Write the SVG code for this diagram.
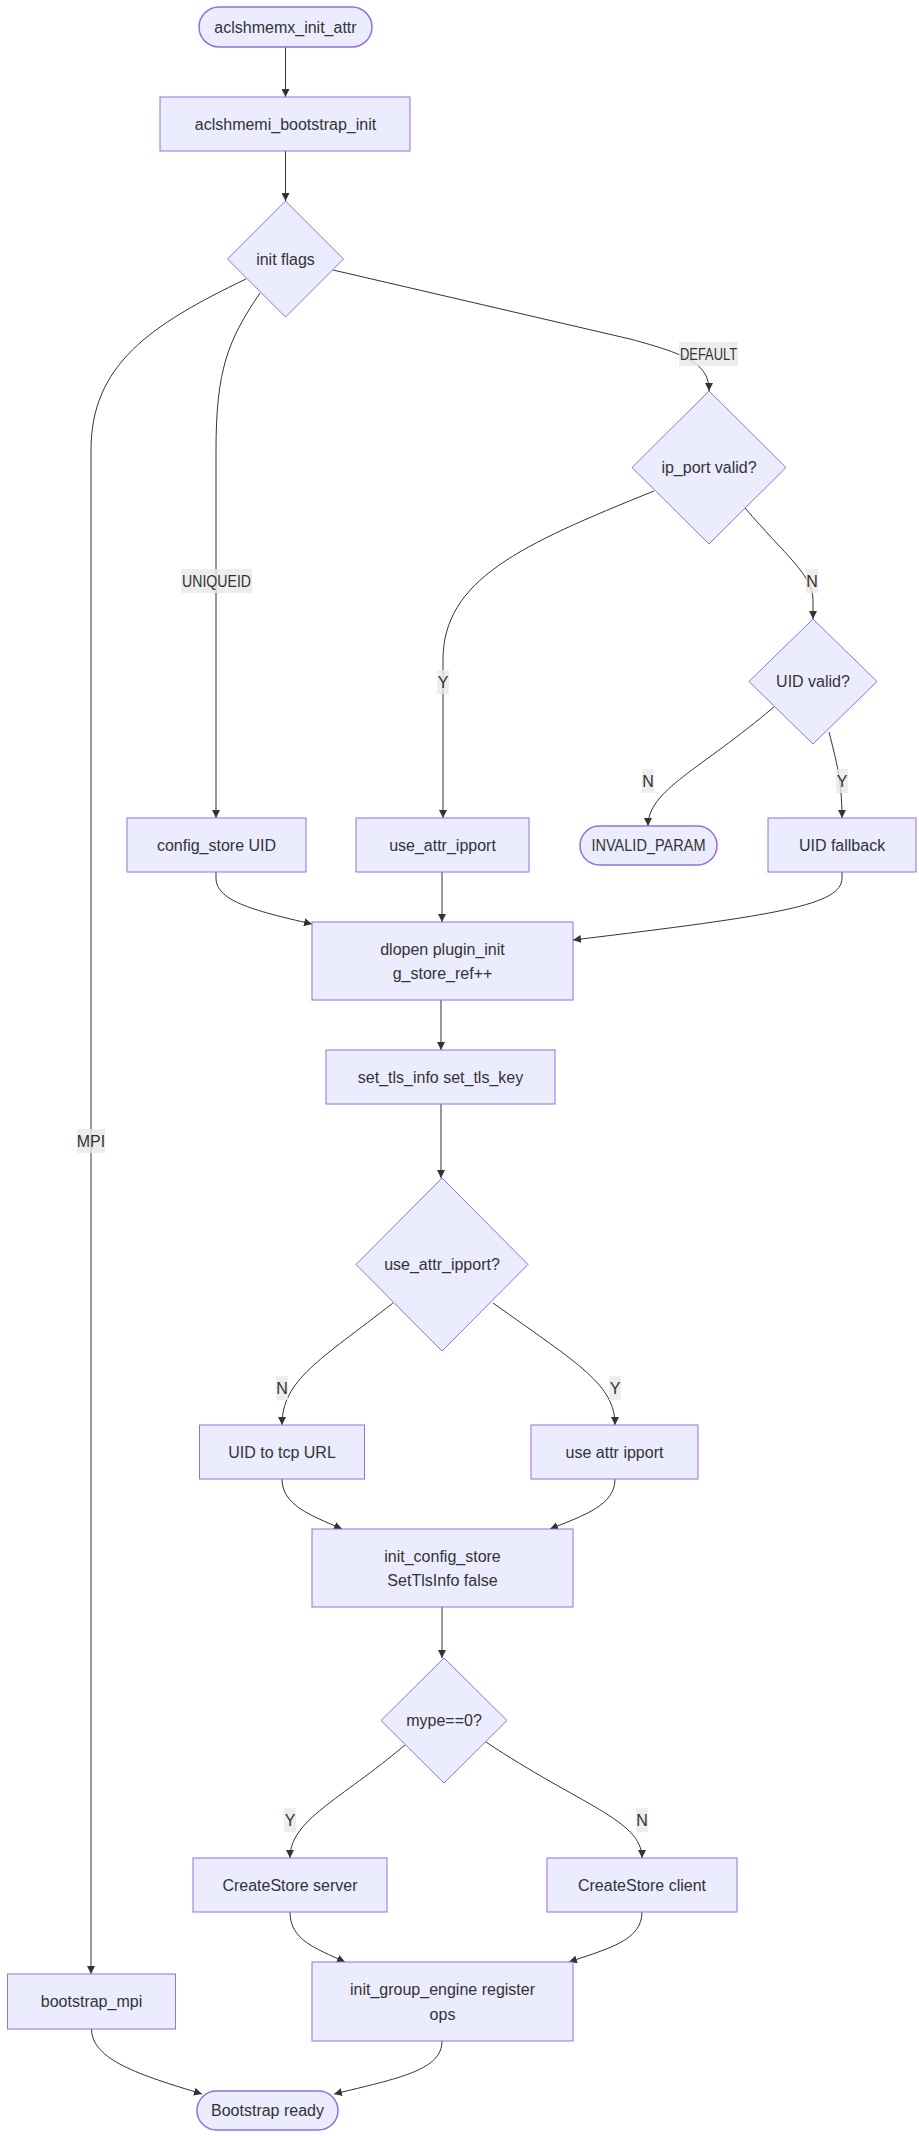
<svg xmlns="http://www.w3.org/2000/svg" width="919" height="2136" viewBox="0 0 919 2136">
<style>
  .node rect, .node polygon { fill: #ECECFF; stroke: #9370DB; stroke-width: 1; }
  .node .term { stroke-width: 1.5; }
  text { font-family: "Liberation Sans", Arial, sans-serif; font-size: 16px; fill: #333333; text-anchor: middle; dominant-baseline: central; }
  .edges path { fill: none; stroke: #333333; stroke-width: 1; marker-end: url(#arrow); }
  .lbl rect { fill: #e8e8e8; fill-opacity: 0.8; stroke: none; }
</style>
<defs>
  <marker id="arrow" viewBox="0 0 10 10" refX="10" refY="5" markerWidth="8" markerHeight="8" markerUnits="userSpaceOnUse" orient="auto">
    <path d="M0,0 L10,5 L0,10 z" fill="#333333"/>
  </marker>
</defs>
<rect width="919" height="2136" fill="#ffffff"/>
<g class="edges">
  <path d="M285.5,47 L285.5,97"/>
  <path d="M285.5,151 L285.5,201"/>
  <path d="M246,279 C150,325 91,365 91,450 L91,1974"/>
  <path d="M260,293 C228,340 216,370 216,450 L216,818"/>
  <path d="M333,270 L630,339 C690,355 709,365 709,391"/>
  <path d="M654,491 C520,545 443,580 443,660 L443,818"/>
  <path d="M745,508 C785,555 813,575 813,600 L813,619"/>
  <path d="M775,706 C700,770 648,790 648,826"/>
  <path d="M829,732 C836,760 842,780 842,818"/>
  <path d="M216,872 L216,878 C216,900 250,910 312,924"/>
  <path d="M442,872 L442,922"/>
  <path d="M842,872 L842,878 C842,905 780,915 573,940"/>
  <path d="M441,1000 L441,1050"/>
  <path d="M441,1104 L441,1178"/>
  <path d="M393,1303 C320,1360 282,1380 282,1425"/>
  <path d="M493,1303 C580,1365 615,1385 615,1425"/>
  <path d="M282,1479 C282,1505 310,1515 342,1529"/>
  <path d="M615,1479 C615,1505 585,1515 550,1529"/>
  <path d="M442,1607 L442,1658"/>
  <path d="M405,1745 C340,1800 290,1820 290,1858"/>
  <path d="M486,1742 C580,1805 642,1820 642,1858"/>
  <path d="M290,1912 C290,1940 315,1948 345,1962"/>
  <path d="M642,1912 C642,1940 610,1948 569,1962"/>
  <path d="M91.6,2029 C91.6,2060 140,2075 202,2094"/>
  <path d="M442,2041 C442,2070 400,2078 334,2094"/>
</g>
<g class="lbl">
  <g id="lbl-mpi"><rect x="77" y="1129" width="28" height="24"/><text x="91" y="1141">MPI</text></g>
  <g id="lbl-uniqueid"><rect x="181" y="569" width="71" height="24"/><text x="216.5" y="581" textLength="69" lengthAdjust="spacingAndGlyphs">UNIQUEID</text></g>
  <g id="lbl-default"><rect x="679" y="342" width="59" height="24"/><text x="708.5" y="354" textLength="57" lengthAdjust="spacingAndGlyphs">DEFAULT</text></g>
  <g id="lbl-y1"><rect x="437" y="670" width="12" height="24"/><text x="443" y="682">Y</text></g>
  <g id="lbl-n1"><rect x="806" y="569" width="12" height="24"/><text x="812" y="581">N</text></g>
  <g id="lbl-n2"><rect x="642" y="769" width="12" height="24"/><text x="648" y="781">N</text></g>
  <g id="lbl-y2"><rect x="836" y="769" width="12" height="24"/><text x="842" y="781">Y</text></g>
  <g id="lbl-n3"><rect x="276" y="1376" width="12" height="24"/><text x="282" y="1388">N</text></g>
  <g id="lbl-y3"><rect x="609" y="1376" width="12" height="24"/><text x="615" y="1388">Y</text></g>
  <g id="lbl-y4"><rect x="284" y="1808" width="12" height="24"/><text x="290" y="1820">Y</text></g>
  <g id="lbl-n4"><rect x="636" y="1808" width="12" height="24"/><text x="642" y="1820">N</text></g>
</g>
<g id="n-start" class="node"><rect class="term" x="199" y="7" width="173" height="40" rx="20" ry="20"/><text x="285.5" y="27">aclshmemx_init_attr</text></g>
<g id="n-bootinit" class="node"><rect x="160" y="97" width="250" height="54"/><text x="285.5" y="124">aclshmemi_bootstrap_init</text></g>
<g id="n-flags" class="node"><polygon points="285.5,201 343.5,259 285.5,317 227.5,259"/><text x="285.5" y="259">init flags</text></g>
<g id="n-ipport" class="node"><polygon points="709,391 786,467.5 709,544 632,467.5"/><text x="709" y="467.5">ip_port valid?</text></g>
<g id="n-uidvalid" class="node"><polygon points="813,619 877,681.5 813,744 749,681.5"/><text x="813" y="681.5">UID valid?</text></g>
<g id="n-cfguid" class="node"><rect x="127" y="818" width="179" height="54"/><text x="216.5" y="845">config_store UID</text></g>
<g id="n-useattr" class="node"><rect x="356" y="818" width="173" height="54"/><text x="442.5" y="845">use_attr_ipport</text></g>
<g id="n-invalid" class="node"><rect class="term" x="580" y="826" width="137" height="39" rx="19.5" ry="19.5"/><text x="648.5" y="845.5" textLength="114" lengthAdjust="spacingAndGlyphs">INVALID_PARAM</text></g>
<g id="n-uidfb" class="node"><rect x="768" y="818" width="148" height="54"/><text x="842" y="845">UID fallback</text></g>
<g id="n-dlopen" class="node"><rect x="312" y="922" width="261" height="78"/><text x="442.5" y="949">dlopen plugin_init</text><text x="442.5" y="973">g_store_ref++</text></g>
<g id="n-settls" class="node"><rect x="326" y="1050" width="229" height="54"/><text x="440.5" y="1077">set_tls_info set_tls_key</text></g>
<g id="n-useattrq" class="node"><polygon points="442,1178 528,1264.5 442,1351 356,1264.5"/><text x="442" y="1264.5">use_attr_ipport?</text></g>
<g id="n-uidtcp" class="node"><rect x="199.5" y="1425" width="165" height="54"/><text x="282" y="1452">UID to tcp URL</text></g>
<g id="n-useattrip" class="node"><rect x="531" y="1425" width="167" height="54"/><text x="614.5" y="1452">use attr ipport</text></g>
<g id="n-initcfg" class="node"><rect x="312" y="1529" width="261" height="78"/><text x="442.5" y="1556">init_config_store</text><text x="442.5" y="1580">SetTlsInfo false</text></g>
<g id="n-mype" class="node"><polygon points="444,1658 507,1720.5 444,1783 381,1720.5"/><text x="444" y="1720.5">mype==0?</text></g>
<g id="n-server" class="node"><rect x="193" y="1858" width="194" height="54"/><text x="290" y="1885">CreateStore server</text></g>
<g id="n-client" class="node"><rect x="547" y="1858" width="190" height="54"/><text x="642" y="1885">CreateStore client</text></g>
<g id="n-group" class="node"><rect x="312" y="1962" width="261" height="79"/><text x="442.5" y="1989.5">init_group_engine register</text><text x="442.5" y="2014">ops</text></g>
<g id="n-mpi" class="node"><rect x="7.5" y="1974" width="168" height="55"/><text x="91.5" y="2001.5">bootstrap_mpi</text></g>
<g id="n-ready" class="node"><rect class="term" x="197" y="2091" width="141" height="39" rx="19.5" ry="19.5"/><text x="267.5" y="2110.5">Bootstrap ready</text></g>
</svg>
